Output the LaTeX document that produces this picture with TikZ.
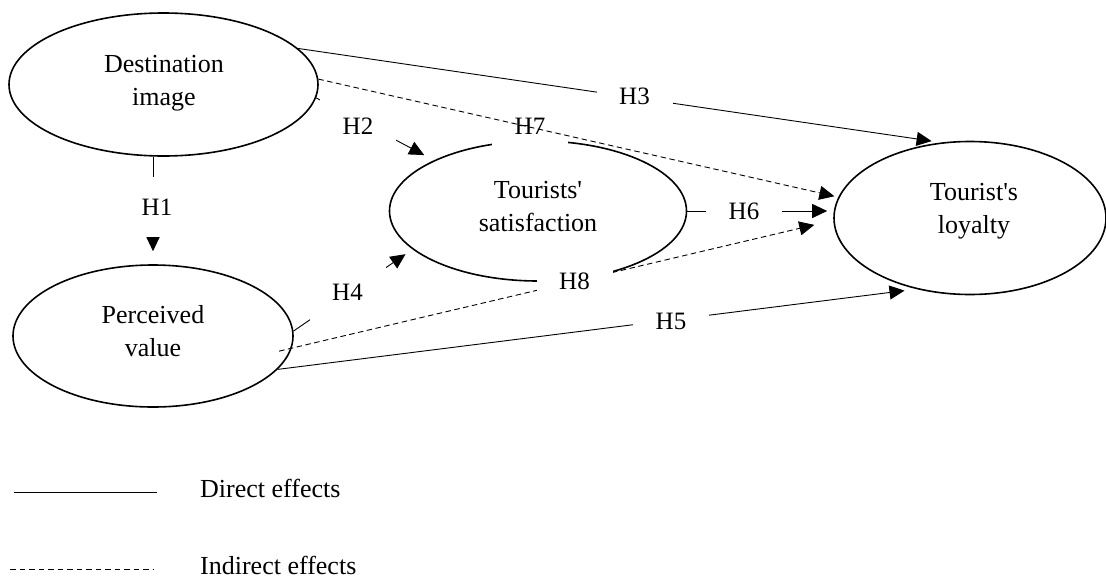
\documentclass[tikz,border=0pt]{standalone}
\usepackage{fontspec}
\newfontfamily\tnr{Liberation Serif}
\usetikzlibrary{shapes.geometric,arrows.meta}
\begin{document}
\begin{tikzpicture}[x=1pt,y=-1pt,
  ell/.style={ellipse, draw, line width=1.6pt, inner sep=0pt},
  txt/.style={align=center, font=\tnr\fontsize{26}{33}\selectfont, inner sep=0pt},
  conn/.style={line width=0.9pt, -{Triangle[length=15pt,width=14pt]}},
  plainline/.style={line width=0.9pt},
  ind/.style={conn, dash pattern=on 5.5pt off 3.5pt},
  lab/.style={fill=white, minimum width=76pt, minimum height=58pt, inner sep=0pt, font=\tnr\fontsize{25}{30}\selectfont},
  legtxt/.style={anchor=base west, inner sep=0pt, font=\tnr\fontsize{26}{30}\selectfont},
]
\useasboundingbox (0,0) rectangle (1106,579);
% constructs
\node[ell, minimum width=309pt, minimum height=143pt] (di) at (163.5,84.5) {};
\node[ell, minimum width=280pt, minimum height=142pt] (pv) at (153,336) {};
\node[ell, minimum width=297pt, minimum height=140pt] (ts) at (538,211) {};
\node[ell, minimum width=272pt, minimum height=153pt] (tl) at (970,218) {};
\node[txt] (dit) at (164,83) {Destination\\image};
\node[txt] (pvt) at (153,331) {Perceived\\value};
\node[txt] (tst) at (538,206.5) {Tourists'\\satisfaction};
\node[txt] (tlt) at (974,211.5) {Tourist's\\loyalty};
% H1
\draw[conn, shorten >=13pt] (pv.north |- di.south) -- (pv.north);
\node[lab, minimum height=60pt] (h1) at (157,207) {H1};
% H2
\draw[conn, shorten >=11pt] (di.-5) -- (ts.154);
\node[lab] (h2) at (358,126.5) {H2};
% H4
\draw[conn, shorten >=8.5pt] (pv.2.5) -- (ts.197.6);
\node[lab] (h4) at (347.5,292.5) {H4};
% H3
\draw[conn, shorten >=9.5pt] (di.15) -- (tl.111);
\node[lab] (h3) at (634.5,96) {H3};
% H5
\draw[conn, shorten >=12pt] (pv.-15) -- (tl.233);
\node[lab] (h5) at (671,321) {H5};
% H6
\draw[conn, shorten >=6pt] (ts.east) -- (ts.east -| tl.west);
\node[lab] (h6) at (744,211) {H6};
% H8
\draw[ind, shorten <=-13pt, shorten >=19.5pt] (pv.-5.4) -- (tl.181);
\node[lab] (h8) at (574.5,281.5) {H8};
% H7
\node[lab] (h7) at (530,126) {H7};
\draw[ind, shorten >=4pt] (di.2) -- (tl.171);
% legend
\coordinate (la1) at (14,492.5);
\coordinate (la2) at (157,492.5);
\coordinate (lb1) at (10,569);
\coordinate (lb2) at (153,569);
\draw[plainline] (la1) -- (la2);
\draw[plainline, dash pattern=on 5.5pt off 4pt] (lb1) -- (lb2);
\node[legtxt] (ld) at (200,497) {Direct effects};
\node[legtxt] (li) at (200,574) {Indirect effects};
\end{tikzpicture}
\end{document}
